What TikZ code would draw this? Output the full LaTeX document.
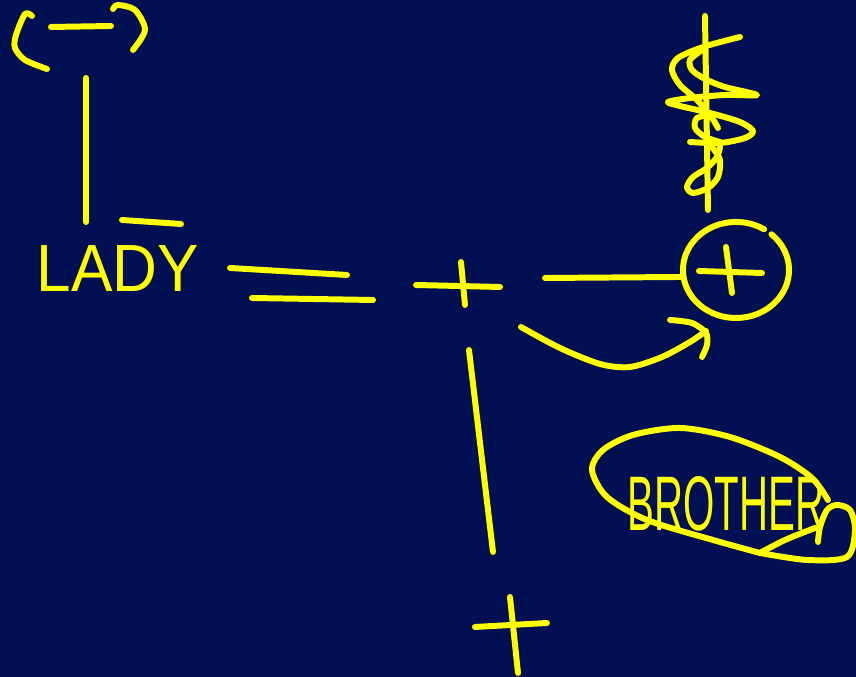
\documentclass[tikz,border=0pt]{standalone}
\usepackage{fontspec}
\setmainfont{Liberation Sans}
\definecolor{navy}{RGB}{0,16,82}
\definecolor{ink}{RGB}{255,255,0}
\begin{document}
\begin{tikzpicture}[x=0.01cm,y=-0.01cm,
  pen/.style={draw=ink,line width=1.7pt,line cap=round,line join=round},
  hand/.style={text=ink,inner sep=0pt,font=\fontsize{19}{22}\selectfont}]
\fill[navy] (0,0) rectangle (856,677);
\useasboundingbox (0,0) rectangle (856,677);
% top-left bracket
\draw[pen] plot[smooth] coordinates {(32,16) (25,14) (16,35) (15,48) (25,60) (47,69)};
\draw[pen] (51,27) -- (111,26);
\draw[pen] plot[smooth] coordinates {(113,9) (118,5) (135,10) (145,30) (133,50)};
\coordinate (topv) at (86,78);
\coordinate (botv) at (86,222);
\draw[pen] (topv) -- (botv);
\draw[pen] (122,220) -- (181,224);
% LADY
\node[hand,anchor=base west] (lady) at (36,292) {\scalebox{0.93}[1]{LADY}};
% equals
\draw[pen] (230,268) -- (347,275);
\draw[pen] (252,298) -- (373,300);
% middle plus
\draw[pen] (416,285) -- (500,287);
\draw[pen] (461,262) -- (465,305);
% line to circle
\draw[pen] (545,278) -- (680,277);
% circle with plus
\draw[pen] (736,270) ++(58:0.53cm and 0.48cm) arc[start angle=58,end angle=408,x radius=0.53cm,y radius=0.48cm];
\draw[pen] (699,271) -- (762,273);
\draw[pen] (726,247) -- (732,293);
% curved arrow
\draw[pen] plot[smooth] coordinates {(521,327) (560,348) (600,364) (630,367) (662,357) (690,342) (706,331)};
\draw[pen] plot[smooth] coordinates {(670,320) (692,323) (706,333) (707,345) (702,357)};
% vertical line
\draw[pen] (469,350) -- (493,552);
% bottom plus
\draw[pen] (510,597) -- (518,673);
\draw[pen] (475,627) -- (547,623);
% scribble
\draw[pen] (705,16) -- (708,210);
\draw[pen] plot[smooth] coordinates {(740,37) (703,47) (678,58) (672,70) (680,85) (697,100) (712,118) (718,128)};
\draw[pen] plot[smooth] coordinates {(702,50) (690,60) (692,70) (705,79) (725,87) (757,95) (725,95) (690,98) (668,102) (680,106) (710,113) (740,122) (753,131) (745,138) (720,143) (690,142)};
\draw[pen] plot[smooth] coordinates {(710,115) (697,118) (695,128) (705,137) (720,142)};
\draw[pen] plot[smooth] coordinates {(712,147) (720,160) (718,177) (708,188) (693,193) (687,187) (693,177) (707,168) (717,157) (720,147)};
% BROTHER ellipse
\draw[pen] plot[smooth] coordinates {(760,553) (713,540) (647,520) (607,497) (592,470) (603,450) (633,435) (680,428) (730,437) (780,457) (812,478) (828,500)};
\draw[pen] plot[smooth] coordinates {(760,553) (785,540) (815,528)};
\draw[pen] plot[smooth] coordinates {(760,553) (807,560) (847,557) (855,530) (850,510) (837,505) (827,510) (820,527) (818,542)};
\node[hand,anchor=base west,font=\fontsize{22}{26}\selectfont] (brother) at (627,531) {\scalebox{0.52}[1]{BROTHER}};
\end{tikzpicture}
\end{document}
